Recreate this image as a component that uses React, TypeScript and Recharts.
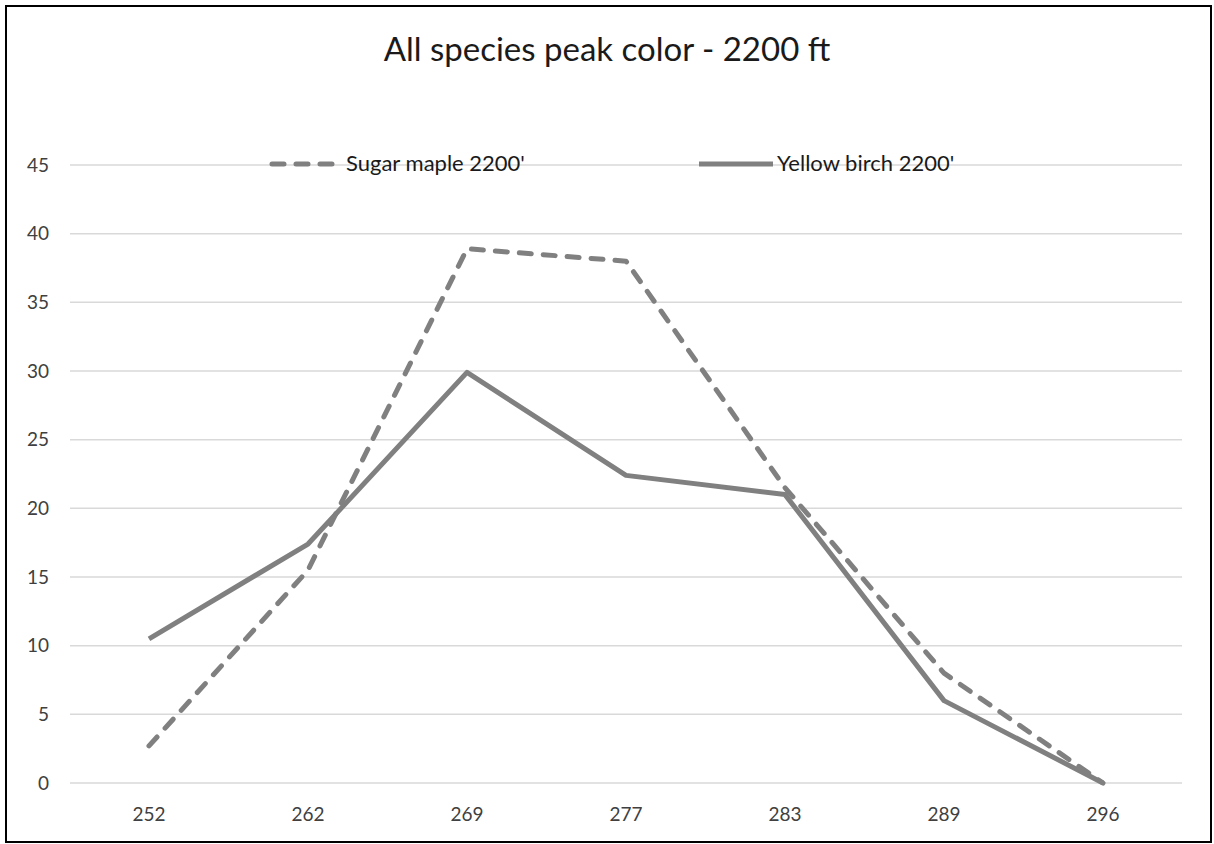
import { LineChart, Line, XAxis, YAxis, CartesianGrid, Legend } from "recharts";

const days = ["252", "262", "269", "277", "283", "289", "296"];
const sugarMaple = [2.7, 15.5, 38.9, 38.0, 21.5, 8.0, 0];
const yellowBirch = [10.5, 17.4, 29.9, 22.4, 21.0, 6.0, 0];
const yTicks = [0, 5, 10, 15, 20, 25, 30, 35, 40, 45];

const data = days.map((day, i) => ({
  day,
  sugar: sugarMaple[i],
  birch: yellowBirch[i],
}));

const FONT = "Lato, 'Open Sans', sans-serif";
const GRAY = "#808080";

function LegendContent() {
  return (
    <div style={{ position: "relative", width: 1214, height: 30, fontFamily: FONT }}>
      <svg style={{ position: "absolute", left: 268, top: 10 }} width={74} height={10}>
        <line x1={4} y1={5} x2={70} y2={5} stroke={GRAY} strokeWidth={5} strokeDasharray="12 12" strokeLinecap="round" />
      </svg>
      <span style={{ position: "absolute", left: 346, top: 0, fontSize: 22, color: "#1a1a1a", lineHeight: "28px" }}>
        Sugar maple 2200'
      </span>
      <svg style={{ position: "absolute", left: 697, top: 10 }} width={78} height={10}>
        <line x1={2} y1={5} x2={76} y2={5} stroke={GRAY} strokeWidth={5} />
      </svg>
      <span style={{ position: "absolute", left: 777, top: 0, fontSize: 22, color: "#1a1a1a", lineHeight: "28px" }}>
        Yellow birch 2200'
      </span>
    </div>
  );
}

export default function App() {
  return (
    <div style={{ position: "fixed", left: 0, top: 0, width: 1214, height: 844, background: "#fff" }}>
      <div
        style={{
          position: "absolute",
          left: 0,
          top: 27,
          width: 1214,
          textAlign: "center",
          fontFamily: FONT,
          fontSize: 33,
          color: "#1a1a1a",
          lineHeight: "42px",
        }}
      >
        All species peak color - 2200 ft
      </div>
      <div style={{ position: "absolute", left: 0, top: 0 }}>
        <LineChart width={1214} height={844} data={data} margin={{ top: 165, right: 32, left: 20, bottom: 31 }}>
          <CartesianGrid vertical={false} stroke="#d9d9d9" strokeWidth={1.5} />
          <XAxis
            dataKey="day"
            axisLine={false}
            tickLine={false}
            height={30}
            tickMargin={19}
            padding={{ left: 79, right: 79 }}
            tick={{ fill: "#404040", fontSize: 19, fontFamily: FONT }}
          />
          <YAxis
            domain={[0, 45]}
            ticks={yTicks}
            axisLine={false}
            tickLine={false}
            width={50}
            tickMargin={15}
            tick={{ fill: "#404040", fontSize: 19, fontFamily: FONT }}
          />
          <Legend
            layout="horizontal"
            verticalAlign="middle"
            align="center"
            content={LegendContent}
            wrapperStyle={{ left: 0, top: 149, width: 1214 }}
          />
          <Line
            type="linear"
            dataKey="sugar"
            name="Sugar maple 2200'"
            stroke={GRAY}
            strokeWidth={5}
            strokeDasharray="12 12"
            strokeLinecap="round"
            strokeLinejoin="round"
            dot={false}
            activeDot={false}
            isAnimationActive={false}
          />
          <Line
            type="linear"
            dataKey="birch"
            name="Yellow birch 2200'"
            stroke={GRAY}
            strokeWidth={5}
            strokeLinejoin="round"
            dot={false}
            activeDot={false}
            isAnimationActive={false}
          />
        </LineChart>
      </div>
      <div
        style={{
          position: "absolute",
          left: 5,
          top: 5,
          width: 1207,
          height: 838,
          boxSizing: "border-box",
          borderWidth: 2,
          borderStyle: "solid",
          borderColor: "#000000",
          pointerEvents: "none",
          zIndex: 10,
        }}
      />
    </div>
  );
}
